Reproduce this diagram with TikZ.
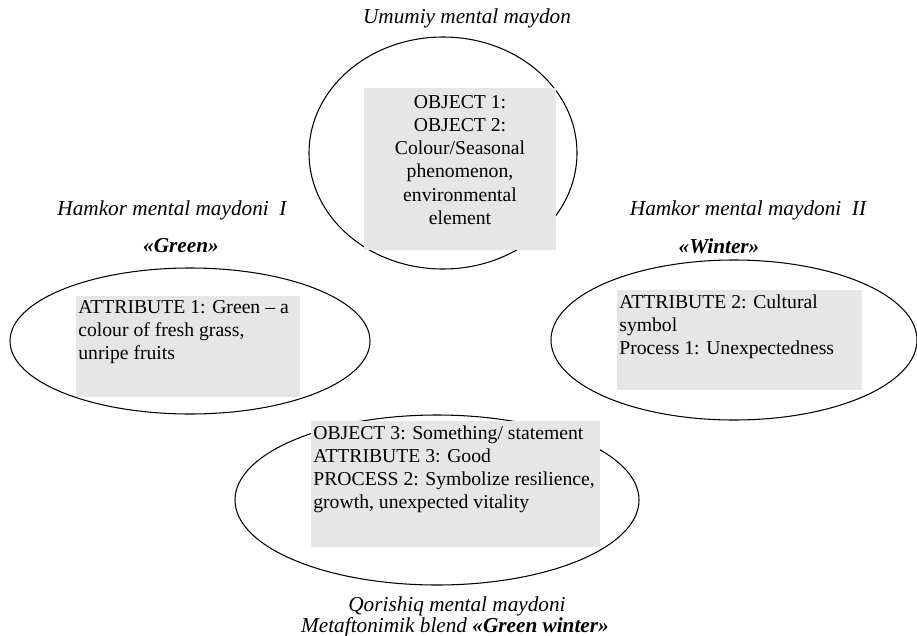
\documentclass[tikz,border=0pt]{standalone}
\usepackage{fontspec}
\setmainfont{Liberation Serif}
\definecolor{boxgray}{RGB}{230,230,230}
\tikzset{
  fieldtext/.style={inner sep=0pt, align=left, font=\fontsize{11.2}{13.2}\selectfont},
  fieldlabel/.style={inner sep=0pt, font=\fontsize{12.1}{13}\selectfont\itshape},
}

\begin{document}
\begin{tikzpicture}[x=0.02cm,y=-0.02cm]
\useasboundingbox (0,0) rectangle (917,636);
% mental spaces
\draw[line width=0.6pt] (443,153) ellipse (134 and 116);
\draw[line width=0.6pt] (190,341) ellipse (180 and 73);
\draw[line width=0.6pt] (734,340) ellipse (183 and 80);
\draw[line width=0.6pt] (437,500) ellipse (202 and 85);
% grey boxes
\fill[boxgray] (364,88) rectangle (556,250);
\fill[boxgray] (76,296) rectangle (300,397);
\fill[boxgray] (617,290) rectangle (862,390);
\fill[boxgray] (311,421) rectangle (600,547);
% box texts
\node[fieldtext, align=center, anchor=north] (generic) at (460,95)
  {OBJECT 1:\\OBJECT 2:\\Colour/Seasonal\\phenomenon,\\environmental\\element};
\node[fieldtext, anchor=north west] (input1) at (78,300)
  {ATTRIBUTE 1: Green -- a\\colour of fresh grass,\\unripe fruits};
\node[fieldtext, anchor=north west] (input2) at (619,294)
  {ATTRIBUTE 2: Cultural\\symbol\\Process 1: Unexpectedness};
\node[fieldtext, anchor=north west] (blend) at (313,425)
  {OBJECT 3: Something/ statement\\ATTRIBUTE 3: Good\\PROCESS 2: Symbolize resilience,\\growth, unexpected vitality};
% labels
\node[fieldlabel] (genericlabel) at (467,18) {Umumiy mental maydon};
\node[fieldlabel] (input1label) at (172,210) {Hamkor mental maydoni\ \ I};
\node[fieldlabel, font=\fontsize{12.1}{13}\selectfont\bfseries\itshape] (input1name) at (181,246) {«Green»};
\node[fieldlabel] (input2label) at (748,210) {Hamkor mental maydoni\ \ II};
\node[fieldlabel, font=\fontsize{12.1}{13}\selectfont\bfseries\itshape] (input2name) at (719,246) {«Winter»};
\node[fieldlabel] (blendlabel) at (457,606) {Qorishiq mental maydoni};
\node[fieldlabel] (blendname) at (455,627) {Metaftonimik blend \textbf{«Green winter»}};
\end{tikzpicture}
\end{document}
